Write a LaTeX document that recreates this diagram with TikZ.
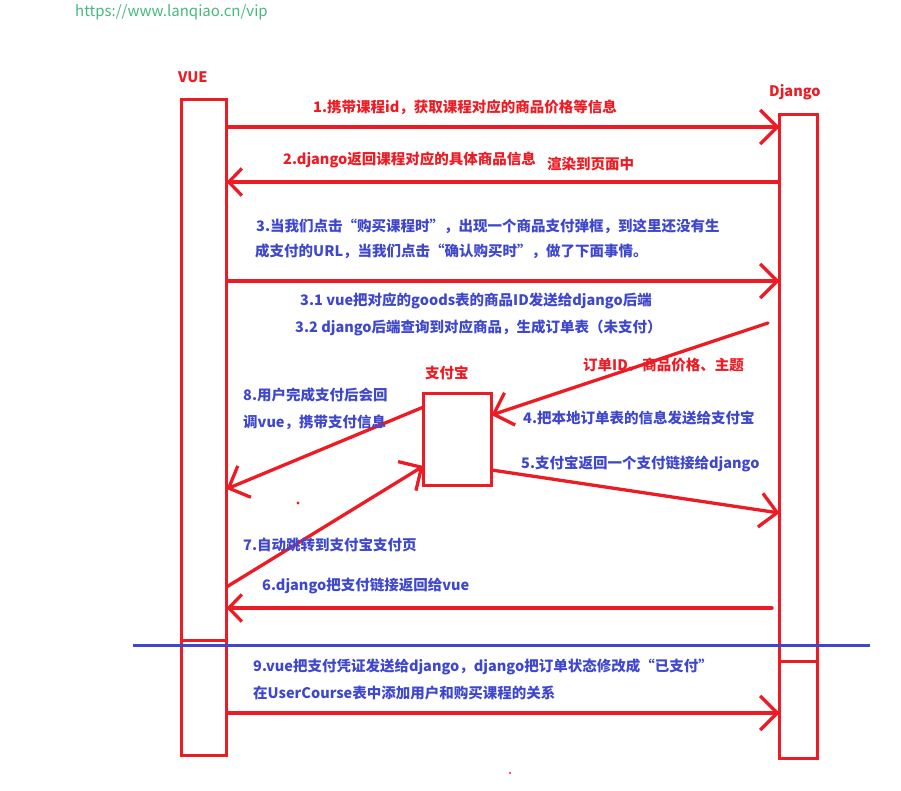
\documentclass[tikz,border=0pt]{standalone}
\usepackage{fontspec}
\setmainfont{Noto Sans CJK SC}
\usetikzlibrary{arrows.meta}
\definecolor{myred}{RGB}{237,28,36}
\definecolor{myblue}{RGB}{63,72,204}
\definecolor{mygreen}{RGB}{70,185,125}
\tikzset{
  lifebox/.style={draw=myred, line width=3.5pt, inner sep=0pt, outer sep=0pt},
  arrbig/.style={draw=myred, line width=3.3pt, line cap=round, -{Straight Barb[length=17pt,width=34pt,line width=3.3pt]}},
  arrsmall/.style={draw=myred, line width=3.3pt, line cap=round, -{Straight Barb[length=13pt,width=27pt,line width=3.3pt]}},
  redtxt/.style={text=myred, font=\bfseries\fontsize{14.5}{16}\selectfont, anchor=west, inner sep=0pt},
  bluetxt/.style={text=myblue, font=\bfseries\fontsize{14.5}{16}\selectfont, anchor=west, inner sep=0pt},
  divider/.style={draw=myred, line width=3pt},
}
\begin{document}
\begin{tikzpicture}[x=1pt,y=-1pt]
\useasboundingbox (0,0) rectangle (901,790);
% url
\node[text=mygreen, font=\fontsize{15}{17}\selectfont, anchor=west, inner sep=0pt] (url) at (75,12) {https://www.lanqiao.cn/vip};
% lifelines
\node[lifebox, minimum width=45pt, minimum height=656pt] (vue) at (204,427.5) {};
\node[lifebox, minimum width=38pt, minimum height=644pt] (dj) at (798.5,436.5) {};
\node[lifebox, minimum width=68pt, minimum height=92pt] (zfb) at (457.5,439.5) {};
\node[redtxt] (vuelbl) at (178,77) {VUE};
\node[redtxt] (djlbl) at (769,92) {Django};
\node[redtxt] (zfblbl) at (425,373) {支付宝};
% dividers
\draw[divider] (vue.west |- 0,640.5) -- (vue.east |- 0,640.5);
\draw[divider] (dj.west |- 0,661) -- (dj.east |- 0,661);
% blue line
\coordinate (bl1) at (133,645.5);
\coordinate (bl2) at (870,645.5);
\draw[myblue, line width=3pt] (bl1) -- (bl2);
% arrows
\draw[arrbig] (vue.east |- 0,127) -- (dj.west |- 0,127);
\draw[arrsmall] (dj.west |- 0,182) -- (vue.east |- 0,182);
\draw[arrbig] (vue.east |- 0,281) -- (dj.west |- 0,281);
\coordinate (a4s) at (768,323);
\draw[arrbig] (a4s) -- (zfb.east |- 0,415);
\draw[arrbig] (zfb.east |- 0,470) -- (dj.west |- 0,513);
\coordinate (a6s) at (772,608);
\draw[arrsmall] (a6s) -- (vue.east |- 0,608);
\draw[arrbig] (vue.east |- 0,587) -- (zfb.west |- 0,466);
\draw[arrbig] (zfb.west |- 0,407) -- (vue.east |- 0,489);
\draw[arrbig] (vue.east |- 0,713) -- (dj.west |- 0,713);
% labels
\node[redtxt] (l1) at (313,107) {1.携带课程id，获取课程对应的商品价格等信息};
\node[redtxt] (l2) at (283,160) {2.django返回课程对应的具体商品信息};
\node[redtxt] (l2b) at (547,164) {渲染到页面中};
\node[bluetxt] (l3a) at (256,226) {3.当我们点击“购买课程时”，出现一个商品支付弹框，到这里还没有生};
\node[bluetxt] (l3b) at (255,251) {成支付的URL，当我们点击“确认购买时”，做了下面事情。};
\node[bluetxt] (l31) at (300,301) {3.1 vue把对应的goods表的商品ID发送给django后端};
\node[bluetxt] (l32) at (295,328) {3.2 django后端查询到对应商品，生成订单表（未支付）};
\node[redtxt] (lred) at (583,365) {订单ID、商品价格、主题};
\node[bluetxt] (l4) at (523,418) {4.把本地订单表的信息发送给支付宝};
\node[bluetxt] (l5) at (521,464) {5.支付宝返回一个支付链接给django};
\node[bluetxt] (l8a) at (243,395) {8.用户完成支付后会回};
\node[bluetxt] (l8b) at (243,422) {调vue，携带支付信息};
\node[bluetxt] (l7) at (243,545) {7.自动跳转到支付宝支付页};
\node[bluetxt] (l6) at (262,586) {6.django把支付链接返回给vue};
\node[bluetxt] (l9a) at (253,667) {9.vue把支付凭证发送给django，django把订单状态修改成“已支付”};
\node[bluetxt] (l9b) at (253,693) {在UserCourse表中添加用户和购买课程的关系};
% stray dots
\fill[myred] (298,503) circle (1.6pt);
\fill[myred] (510,773) circle (1.2pt);
\end{tikzpicture}
\end{document}
